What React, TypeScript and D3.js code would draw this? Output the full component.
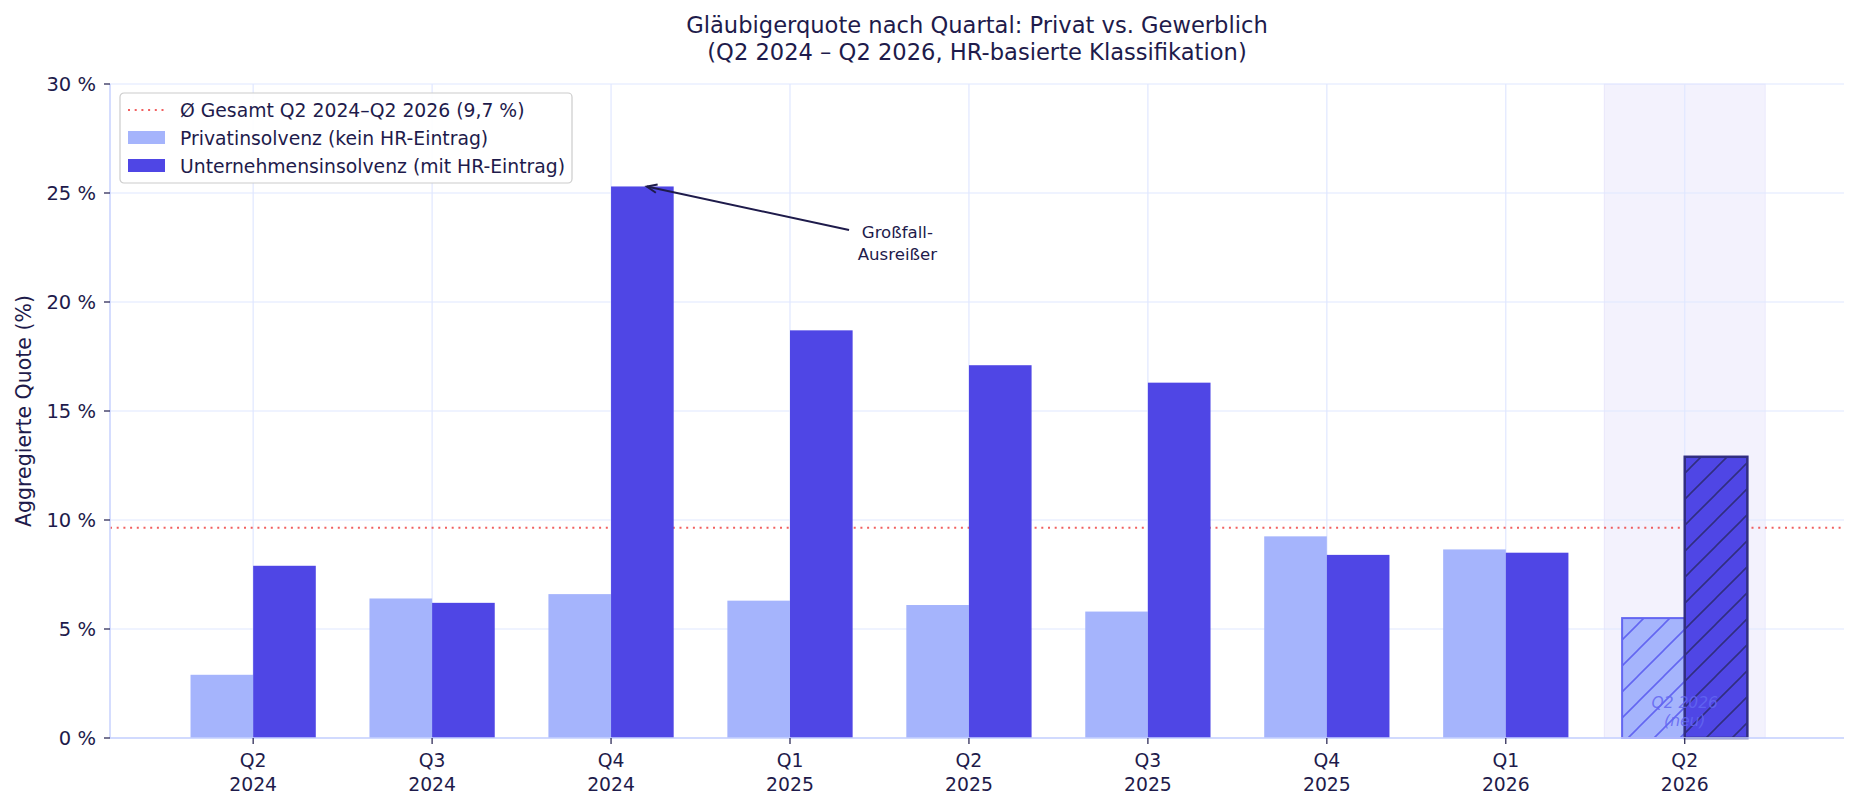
import React from 'react';
import * as d3 from 'd3';

// Werte
const quarterNames = ['Q2', 'Q3', 'Q4', 'Q1', 'Q2', 'Q3', 'Q4', 'Q1', 'Q2'];
const quarterYears = ['2024', '2024', '2024', '2025', '2025', '2025', '2025', '2026', '2026'];
const privatQuote = [2.9, 6.4, 6.6, 6.3, 6.1, 5.8, 9.25, 8.65, 5.5];
const unternehmenQuote = [7.9, 6.2, 25.3, 18.7, 17.1, 16.3, 8.4, 8.5, 12.9];
const avgQuote = 9.65;
const yTicks = [0, 5, 10, 15, 20, 25, 30];
const legendLabels = [
  'Ø Gesamt Q2 2024–Q2 2026 (9,7 %)',
  'Privatinsolvenz (kein HR-Eintrag)',
  'Unternehmensinsolvenz (mit HR-Eintrag)',
];

const W = 1859;
const H = 809;
const margin = { top: 84, right: 15, bottom: 71, left: 110 };
const FONT = '"DejaVu Sans", sans-serif';
const INK = '#1e1b4b';
const C_PRIV = '#a5b4fc';
const C_UNT = '#4f46e5';
const GRID = '#e0e7ff';
const SPINE = '#c7d2fe';
const BAR_W = 0.35;

const App: React.FC = () => {
  const n = quarterNames.length;
  const x = d3.scaleLinear().domain([-0.8, 8.89]).range([margin.left, W - margin.right]);
  const y = d3.scaleLinear().domain([0, 30]).range([H - margin.bottom, margin.top]);
  const bw = x(BAR_W) - x(0);
  const last = n - 1;
  const idx = d3.range(n);

  const arrowTip = { x: x(2 + 0.2), y: y(unternehmenQuote[2]) };
  const arrowFrom = { x: x(3.33), y: y(23.3) };
  const ang = Math.atan2(arrowFrom.y - arrowTip.y, arrowFrom.x - arrowTip.x);
  const head = 11;
  const headPath = `M${arrowTip.x + head * Math.cos(ang + 0.4)},${arrowTip.y + head * Math.sin(ang + 0.4)} L${arrowTip.x},${arrowTip.y} L${arrowTip.x + head * Math.cos(ang - 0.4)},${arrowTip.y + head * Math.sin(ang - 0.4)}`;

  return (
    <div style={{ position: 'fixed', left: 0, top: 0, width: W, height: H, background: '#fff' }}>
      <svg width={W} height={H} viewBox={`0 0 ${W} ${H}`} style={{ display: 'block', fontFamily: FONT }}>
        <defs>
          <pattern id="hatch-priv" patternUnits="userSpaceOnUse" width={26} height={26}>
            <path d="M-2,2 l4,-4 M0,26 l26,-26 M24,28 l4,-4" stroke="#6366f1" strokeWidth={1.6} />
          </pattern>
          <pattern id="hatch-unt" patternUnits="userSpaceOnUse" width={26} height={26}>
            <path d="M-2,2 l4,-4 M0,26 l26,-26 M24,28 l4,-4" stroke="#312e81" strokeWidth={1.6} />
          </pattern>
        </defs>

        {/* Markierung neues Quartal */}
        <rect
          x={x(last - 0.45)}
          y={margin.top}
          width={x(last + 0.45) - x(last - 0.45)}
          height={y(0) - margin.top}
          fill={C_UNT}
          fillOpacity={0.07}
          stroke={C_UNT}
          strokeOpacity={0.08}
        />

        {/* Gitter */}
        {yTicks.map(t => (
          <line key={`gy${t}`} x1={margin.left} x2={W - margin.right} y1={y(t)} y2={y(t)} stroke={GRID} strokeWidth={1.2} />
        ))}
        {idx.map(i => (
          <line key={`gx${i}`} x1={x(i)} x2={x(i)} y1={margin.top} y2={y(0)} stroke={GRID} strokeWidth={1.2} />
        ))}

        {/* Durchschnittslinie */}
        <line
          x1={margin.left}
          x2={W - margin.right}
          y1={y(avgQuote)}
          y2={y(avgQuote)}
          stroke="#ef4444"
          strokeWidth={2}
          strokeOpacity={0.85}
          strokeDasharray="2 4.7"
        />

        {/* Balken */}
        {idx.map(i => {
          const isNew = i === last;
          return (
            <g key={`b${i}`}>
              <rect
                x={x(i - BAR_W)}
                y={y(privatQuote[i])}
                width={bw}
                height={y(0) - y(privatQuote[i])}
                fill={C_PRIV}
              />
              {isNew && (
                <rect x={x(i - BAR_W)} y={y(privatQuote[i])} width={bw} height={y(0) - y(privatQuote[i])} fill="url(#hatch-priv)" stroke="#6366f1" strokeWidth={2} />
              )}
              <rect
                x={x(i)}
                y={y(unternehmenQuote[i])}
                width={bw}
                height={y(0) - y(unternehmenQuote[i])}
                fill={C_UNT}
              />
              {isNew && (
                <rect x={x(i)} y={y(unternehmenQuote[i])} width={bw} height={y(0) - y(unternehmenQuote[i])} fill="url(#hatch-unt)" stroke="#312e81" strokeWidth={2.5} />
              )}
            </g>
          );
        })}

        <text x={x(last)} y={y(0) - 30} textAnchor="middle" fontSize={15.5} fontStyle="italic" fill="#6366f1" fillOpacity={0.85}>
          Q2 2026
        </text>
        <text x={x(last)} y={y(0) - 12} textAnchor="middle" fontSize={15.5} fontStyle="italic" fill="#6366f1" fillOpacity={0.85}>
          (neu)
        </text>

        {/* Achsen */}
        <line x1={margin.left} x2={margin.left} y1={margin.top} y2={y(0)} stroke={SPINE} strokeWidth={1.5} />
        <line x1={margin.left} x2={W - margin.right} y1={y(0)} y2={y(0)} stroke={SPINE} strokeWidth={1.5} />
        {yTicks.map(t => (
          <g key={`ty${t}`}>
            <line x1={margin.left - 6} x2={margin.left} y1={y(t)} y2={y(t)} stroke={INK} strokeWidth={1.2} />
            <text x={margin.left - 14} y={y(t)} dy="0.35em" textAnchor="end" fontSize={19.5} fill={INK}>
              {`${t} %`}
            </text>
          </g>
        ))}
        {idx.map(i => (
          <g key={`tx${i}`}>
            <line x1={x(i)} x2={x(i)} y1={y(0)} y2={y(0) + 6} stroke={INK} strokeWidth={1.2} />
            <text x={x(i)} y={y(0) + 29} textAnchor="middle" fontSize={18.8} fill={INK}>
              {quarterNames[i]}
            </text>
            <text x={x(i)} y={y(0) + 53} textAnchor="middle" fontSize={18.8} fill={INK}>
              {quarterYears[i]}
            </text>
          </g>
        ))}
        <text
          transform={`translate(31,${(margin.top + y(0)) / 2}) rotate(-90)`}
          textAnchor="middle"
          fontSize={20.5}
          fill={INK}
        >
          Aggregierte Quote (%)
        </text>

        {/* Annotation */}
        <line x1={arrowFrom.x} y1={arrowFrom.y} x2={arrowTip.x} y2={arrowTip.y} stroke={INK} strokeWidth={2} />
        <path d={headPath} fill="none" stroke={INK} strokeWidth={2} />
        <text x={x(3.6)} y={y(22.8) - 3} textAnchor="middle" fontSize={16.6} fill={INK}>Großfall-</text>
        <text x={x(3.6)} y={y(22.8) + 19} textAnchor="middle" fontSize={16.6} fill={INK}>Ausreißer</text>

        {/* Legende */}
        <g transform="translate(120,93)">
          <rect x={0} y={0} width={452} height={90} rx={4} fill="#fff" fillOpacity={0.9} stroke="#cccccc" strokeWidth={1.2} />
          <line x1={8} x2={46} y1={17} y2={17} stroke="#ef4444" strokeWidth={2} strokeOpacity={0.85} strokeDasharray="2 4.7" />
          <rect x={8} y={38} width={37} height={13} fill={C_PRIV} />
          <rect x={8} y={66} width={37} height={13} fill={C_UNT} />
          {legendLabels.map((l, i) => (
            <text key={l} x={60} y={17 + i * 28.3} dy="0.35em" fontSize={18.8} fill={INK}>
              {l}
            </text>
          ))}
        </g>

        {/* Titel */}
        <text x={(margin.left + W - margin.right) / 2} y={33} textAnchor="middle" fontSize={22.6} fill={INK}>
          Gläubigerquote nach Quartal: Privat vs. Gewerblich
        </text>
        <text x={(margin.left + W - margin.right) / 2} y={60} textAnchor="middle" fontSize={22.6} fill={INK}>
          (Q2 2024 – Q2 2026, HR-basierte Klassifikation)
        </text>
      </svg>
    </div>
  );
};

export default App;
